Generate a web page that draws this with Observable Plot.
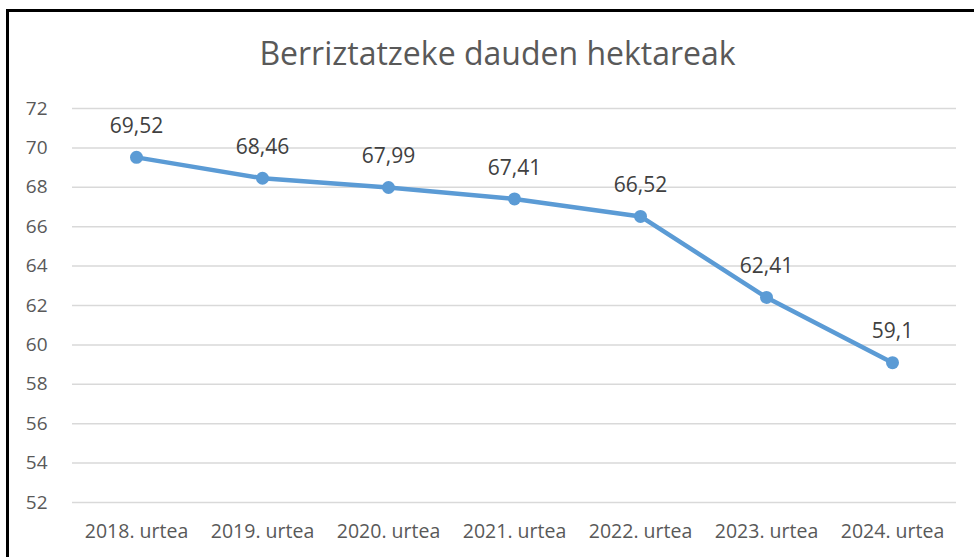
<!DOCTYPE html>
<html>
<head>
<meta charset="utf-8">
<script src="https://cdn.jsdelivr.net/npm/d3@7"></script>
<script src="https://cdn.jsdelivr.net/npm/@observablehq/plot@0.6"></script>
<style>
  html, body { margin: 0; padding: 0; background: #fff; }
  #wrap { position: relative; width: 974px; height: 557px; overflow: hidden; font-family: "Open Sans", sans-serif; }
  #title { position: absolute; left: 0; width: 995px; top: 31px; text-align: center; font-size: 32px; line-height: normal; color: #595959; }
  #bl { position: absolute; left: 6px; top: 9px; width: 3px; height: 560px; background: #000; }
  #bt { position: absolute; left: 6px; top: 9px; width: 980px; height: 3px; background: #000; }
  #chart { position: absolute; left: 0; top: 0; }
</style>
</head>
<body>
<div id="wrap">
  <div id="chart"></div>
  <div id="title">Berriztatzeke dauden hektareak</div>
  <div id="bl"></div>
  <div id="bt"></div>
</div>
<script>
const categories = ["2018. urtea", "2019. urtea", "2020. urtea", "2021. urtea", "2022. urtea", "2023. urtea", "2024. urtea"];
const values = [69.52, 68.46, 67.99, 67.41, 66.52, 62.41, 59.1];
const yTicks = [52, 54, 56, 58, 60, 62, 64, 66, 68, 70, 72];

const data = categories.map((c, i) => ({cat: c, v: values[i], label: String(values[i]).replace(".", ",")}));

const plot = Plot.plot({
  width: 974,
  height: 557,
  marginLeft: 72,
  marginRight: 18,
  marginTop: 108,
  marginBottom: 55,
  style: {fontFamily: "Open Sans, sans-serif", fontSize: "19px", color: "#595959", background: "transparent"},
  x: {type: "point", domain: categories, padding: 0.5, label: null},
  y: {domain: [52, 72], label: null},
  marks: [
    Plot.gridY(yTicks, {stroke: "#d9d9d9", strokeOpacity: 1, strokeWidth: 1.5}),
    Plot.axisY(yTicks, {tickSize: 0, tickPadding: 25, fontSize: 19, fill: "#595959", label: null}),
    Plot.axisX(categories, {tickSize: 0, tickPadding: 22, fontSize: 19.5, fill: "#595959", label: null}),
    Plot.line(data, {x: "cat", y: "v", stroke: "#5b9bd5", strokeWidth: 4.5}),
    Plot.dot(data, {x: "cat", y: "v", r: 6.5, fill: "#5b9bd5", stroke: "none"}),
    Plot.text(data, {x: "cat", y: "v", text: "label", dy: -31, fontSize: 21, fill: "#404040"})
  ]
});
document.getElementById("chart").appendChild(plot);
</script>
</body>
</html>
